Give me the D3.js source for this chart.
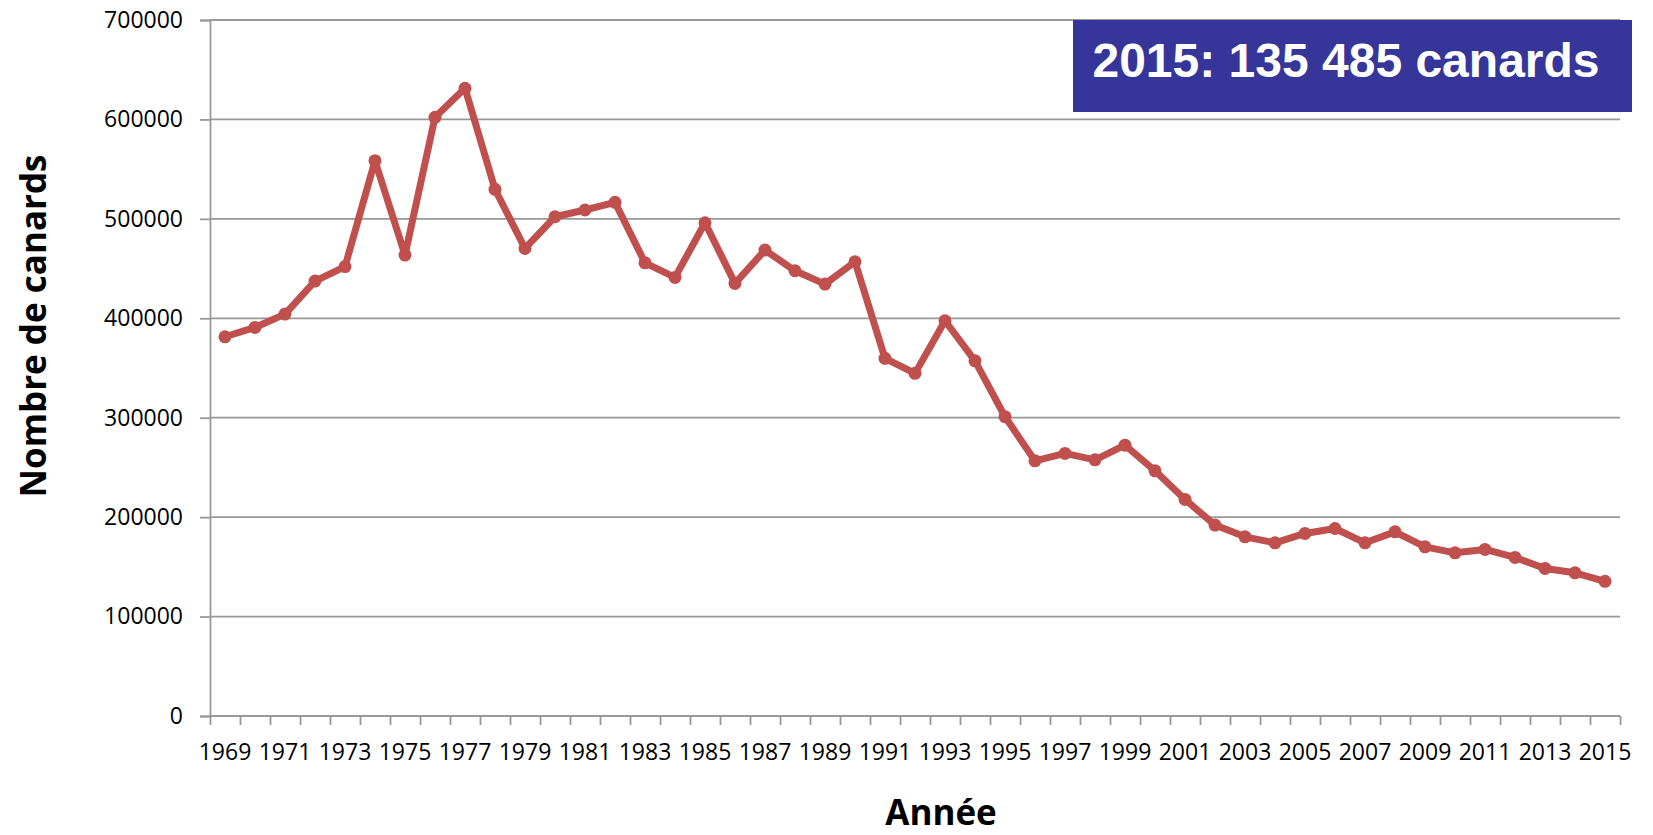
<!DOCTYPE html>
<html>
<head>
<meta charset="utf-8">
<script src="https://cdn.jsdelivr.net/npm/d3@7"></script>
<style>
  body { margin: 0; background: #fff; }
  svg { display: block; }
  .tick-label { font-family: "Open Sans", sans-serif; font-size: 23px; fill: #000; }
  .axis-title { font-family: "Open Sans", sans-serif; font-size: 35px; font-weight: bold; fill: #000; }
</style>
</head>
<body>
<svg id="chart" width="1653" height="835"></svg>
<script>
// data
const years = d3.range(1969, 2016)
const ducks = [
  381400, 390800, 404200, 437400, 452000, 558500, 463600, 602100, 631300, 529700,
  470300, 502100, 508900, 516600, 455800, 441100, 496100, 435100, 468600, 447800,
  434400, 456800, 359700, 344600, 397500, 357200, 301000, 256600, 264100, 257600,
  272400, 246600, 217800, 192000, 180200, 174200, 183600, 188600, 174200, 185200,
  170100, 164100, 167500, 159500, 148400, 144000, 135485
]
const yTicks = [0, 100000, 200000, 300000, 400000, 500000, 600000, 700000]
const labelYears = years.filter(d => (d - 1969) % 2 == 0)
const boxText = '2015: 135 485 canards'

const lineColor = '#C0504D'
const gridColor = '#989898'

const plotLeft = 210, plotRight = 1620, plotTop = 20, plotBottom = 716

const svg = d3.select('#chart')

const x = d3.scaleBand().domain(years).range([plotLeft, plotRight]).padding(0)
const xEdges = d3.scaleLinear().domain([0, years.length]).range([plotLeft, plotRight])
const y = d3.scaleLinear().domain([0, 700000]).range([plotBottom, plotTop])

// horizontal gridlines
svg.append('g')
    .selectAll('line')
    .data(yTicks.filter(d => d > 0))
    .enter()
    .append('line')
    .attr('x1', plotLeft)
    .attr('x2', plotRight)
    .attr('y1', d => y(d))
    .attr('y2', d => y(d))
    .style('stroke', gridColor)
    .style('stroke-width', 1.8)

// y axis
const yAxis = svg.append('g')
    .attr('transform', 'translate(' + plotLeft + ',0)')
    .call(d3.axisLeft(y).tickValues(yTicks).tickSize(10).tickPadding(17).tickFormat(d3.format('d')))
yAxis.select('.domain').style('stroke', gridColor).style('stroke-width', 1.8)
yAxis.selectAll('.tick line').style('stroke', gridColor).style('stroke-width', 1.8)
yAxis.selectAll('.tick text')
    .attr('class', 'tick-label')
    .attr('font-family', null)
    .attr('font-size', null)

// x axis: tick marks at category edges
const xTickAxis = svg.append('g')
    .attr('transform', 'translate(0,' + plotBottom + ')')
    .call(d3.axisBottom(xEdges).tickValues(d3.range(years.length + 1)).tickSize(9).tickFormat(''))
xTickAxis.select('.domain').attr('d', 'M' + plotLeft + ',0H' + plotRight).style('stroke', gridColor).style('stroke-width', 1.8)
xTickAxis.selectAll('.tick line').style('stroke', gridColor).style('stroke-width', 1.8)

// x axis: labels every two years
const xLabelAxis = svg.append('g')
    .attr('transform', 'translate(0,' + plotBottom + ')')
    .call(d3.axisBottom(x).tickValues(labelYears).tickSize(0))
xLabelAxis.select('.domain').remove()
xLabelAxis.selectAll('.tick text')
    .attr('class', 'tick-label')
    .attr('font-family', null)
    .attr('font-size', null)
    .attr('y', 44)
    .attr('dy', 0)

// line + markers
const points = years.map((d, i) => ({year: d, value: ducks[i]}))
const line = d3.line()
    .x(d => x(d.year) + x.bandwidth() / 2)
    .y(d => y(d.value))

svg.append('path')
    .datum(points)
    .attr('d', line)
    .style('fill', 'none')
    .style('stroke', lineColor)
    .style('stroke-width', 7)
    .style('stroke-linejoin', 'round')

svg.append('g')
    .selectAll('circle')
    .data(points)
    .enter()
    .append('circle')
    .attr('cx', d => x(d.year) + x.bandwidth() / 2)
    .attr('cy', d => y(d.value))
    .attr('r', 6.5)
    .style('fill', lineColor)

// axis titles
svg.append('text')
    .attr('class', 'axis-title')
    .attr('x', 941)
    .attr('y', 825)
    .attr('text-anchor', 'middle')
    .text('Année')

svg.append('text')
    .attr('class', 'axis-title')
    .attr('transform', 'translate(46,326) rotate(-90)')
    .attr('text-anchor', 'middle')
    .text('Nombre de canards')

// annotation box
svg.append('rect')
    .attr('x', 1073)
    .attr('y', 20)
    .attr('width', 559)
    .attr('height', 92)
    .style('fill', '#35359A')

svg.append('text')
    .attr('x', 1346)
    .attr('y', 77)
    .attr('text-anchor', 'middle')
    .style('font-family', '"Liberation Sans", Arial, sans-serif')
    .style('font-weight', 'bold')
    .style('font-size', '48px')
    .style('fill', '#fff')
    .text(boxText)
</script>
</body>
</html>
